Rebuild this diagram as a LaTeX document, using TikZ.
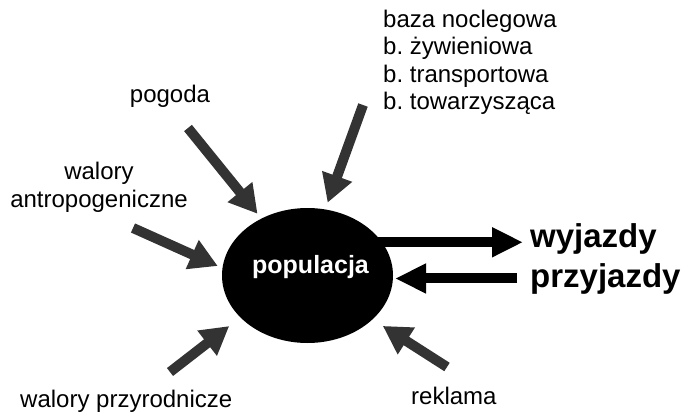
\documentclass[tikz,border=0pt]{standalone}
\usepackage{fontspec}
\setmainfont{Liberation Sans}
\usetikzlibrary{arrows.meta,shapes.geometric}
\definecolor{arrowgrey}{HTML}{333333}
\frenchspacing

\begin{document}
\begin{tikzpicture}[x=1pt,y=-1pt,
  txt/.style={inner sep=0pt,font=\fontsize{24}{27.5}\selectfont},
  bigtxt/.style={inner sep=0pt,font=\fontsize{33}{36}\selectfont\bfseries},
  inarrow/.style={draw=arrowgrey,line width=10pt,-{Triangle[length=28pt,width=30pt]}},
  outarrow/.style={draw=black,line width=10pt,-{Triangle[length=31pt,width=28pt]}}]
\useasboundingbox (0,0) rectangle (686,415);

% Draw population ellipse
\node[ellipse,fill=black,minimum width=171pt,minimum height=135pt,inner sep=0pt] (pop) at (307.5,275.5) {};
\node[inner sep=0pt,font=\fontsize{25}{28}\selectfont\bfseries,text=white,anchor=base] (popl) at (310.5,273) {populacja};

% Draw factor labels
\node[txt,anchor=base] (pog) at (170,102) {pogoda};
\node[txt,anchor=north,align=center] (ant) at (99,162) {walory\\antropogeniczne};
\node[txt,anchor=north west,align=left] (baza) at (383,9.5) {baza noclegowa\\b. żywieniowa\\b. transportowa\\b. towarzysząca};
\node[txt,anchor=base west] (prz) at (20,407) {walory przyrodnicze};
\node[txt,anchor=base west] (rek) at (411,404) {reklama};

% Draw outcome labels
\node[bigtxt,anchor=base west] (wy) at (530,247) {wyjazdy};
\node[bigtxt,anchor=base west] (pr) at (530,287) {przyjazdy};

% Arrow tails
\coordinate (pogT) at (188,128);
\coordinate (bazaT) at (363,105);
\coordinate (antT) at (133,228);
\coordinate (przT) at (170,372);
\coordinate (rekT) at (447,367);

% Arrows into population
\draw[inarrow,shorten >=6pt] (pogT) -- (pop.129);
\draw[inarrow,shorten >=7pt] (bazaT) -- (pop.75);
\draw[inarrow,shorten >=5pt] (antT) -- (pop.175);
\draw[inarrow,shorten >=14pt] (przT) -- (pop.212);
\draw[inarrow,shorten >=12pt] (rekT) -- (pop.326);

% Arrows out of and back to population
\draw[outarrow,shorten >=7pt] ([xshift=-7pt]pop.24) -- (pop.24 -| wy.west);
\draw[outarrow,shorten <=13pt,shorten >=2pt] (pop.-2 -| pr.west) -- (pop.-2);
\end{tikzpicture}
\end{document}
